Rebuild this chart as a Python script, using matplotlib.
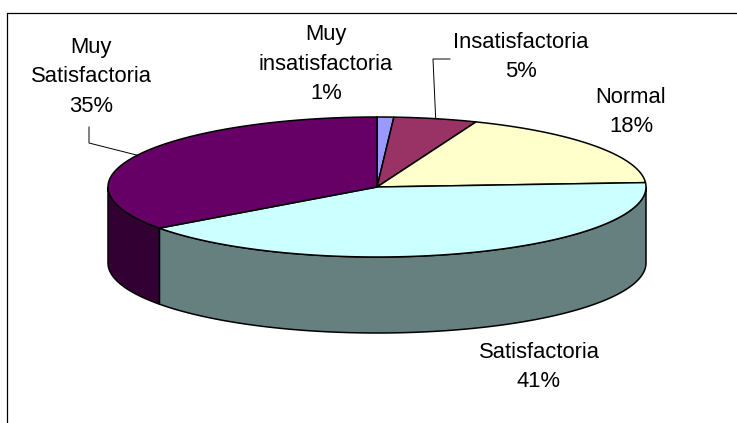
import numpy as np
import matplotlib.pyplot as plt
from matplotlib.patches import Polygon

plt.rcParams['font.family'] = ['Liberation Sans', 'DejaVu Sans']

# data
categories = ['Muy\ninsatisfactoria', 'Insatisfactoria', 'Normal', 'Satisfactoria', 'Muy\nSatisfactoria']
values = [1, 5, 18, 41, 35]

# styles / layout
top_colors = ['#9999FF', '#993366', '#FFFFCC', '#CCFFFF', '#660066']
side_colors = ['#4C4C80', '#4C1933', '#808066', '#668080', '#330033']
label_pos = [(326, 64), (521, 57), (631, 112), (539, 367), (91, 77)]
leaders = {1: [(450, 59), (433, 59)], 4: [(89, 127), (89, 143)]}

cx, cy, rx, ry, depth = 377, 187, 269, 70, 76


def pt(t, dy=0):
    t = np.radians(t)
    return cx + rx * np.sin(t), cy - ry * np.cos(t) + dy


fig = plt.figure(figsize=(7.37, 4.23), dpi=100)
ax = fig.add_axes([0, 0, 1, 1])
ax.set_xlim(0, 737)
ax.set_ylim(423, 0)
ax.axis('off')

# chart frame (cut off at right and bottom)
ax.plot([7, 7, 740], [430, 13, 13], color='black', lw=0.9)

total = sum(values)
bounds = np.concatenate([[0], np.cumsum(values)]) / total * 360

# side walls (front half only)
for i in range(len(values)):
    a, b = max(bounds[i], 90), min(bounds[i + 1], 270)
    if b <= a:
        continue
    t = np.linspace(a, b, 200)
    xs, ys = pt(t)
    xb, yb = pt(t[::-1], depth)
    poly = Polygon(np.column_stack([np.r_[xs, xb], np.r_[ys, yb]]),
                   closed=True, fc=side_colors[i], ec='black', lw=1.1)
    ax.add_patch(poly)

# top face
for i in range(len(values)):
    t = np.linspace(bounds[i], bounds[i + 1], 200)
    xs, ys = pt(t)
    poly = Polygon(np.column_stack([np.r_[cx, xs], np.r_[cy, ys]]),
                   closed=True, fc=top_colors[i], ec='black', lw=1.1)
    ax.add_patch(poly)

# labels
for i, (cat, v) in enumerate(zip(categories, values)):
    x, y = label_pos[i]
    ax.text(x, y, f'{cat}\n{v}%', ha='center', va='center',
            fontsize=15.8, linespacing=1.54, color='black')
    if i in leaders:
        mid = (bounds[i] + bounds[i + 1]) / 2
        px, py = pt(mid)
        pts = leaders[i] + [(px, py)]
        ax.plot([p[0] for p in pts], [p[1] for p in pts], color='black', lw=0.7)

fig.savefig('out.png', dpi=100)
